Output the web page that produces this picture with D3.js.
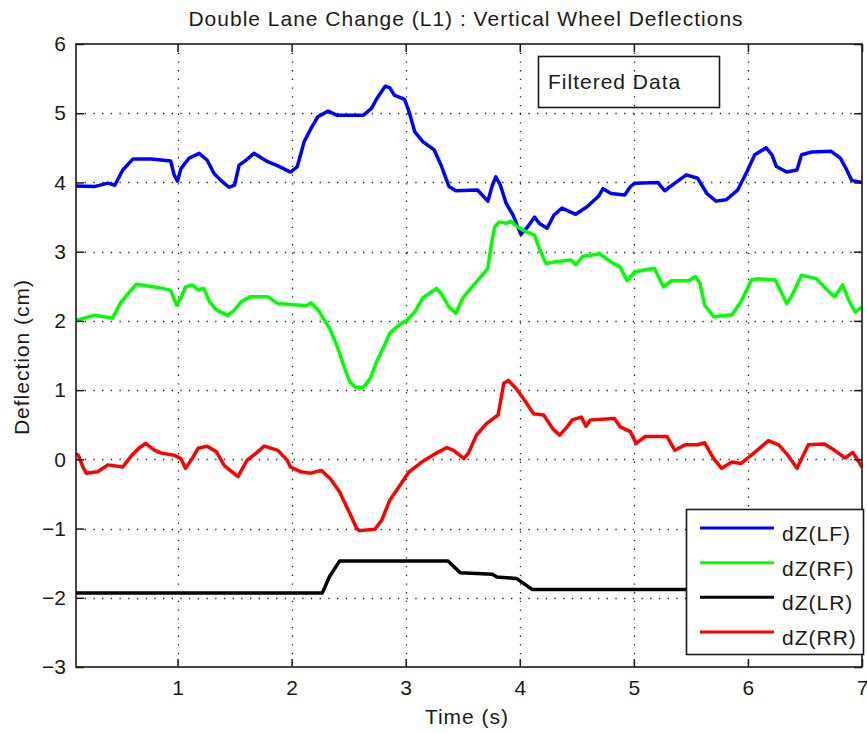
<!DOCTYPE html>
<html>
<head>
<meta charset="utf-8">
<script src="https://cdn.jsdelivr.net/npm/d3@7"></script>
<style>
  html, body { margin: 0; padding: 0; background: #fff; }
  svg { display: block; font-family: "Liberation Sans", Arial, sans-serif; }
</style>
</head>
<body>
<svg id="chart" width="867" height="733"></svg>
<script>
// Wheel deflection traces, [time (s), deflection (cm)]
const lfData = [[0.11,3.95],[0.27,3.94],[0.39,3.99],[0.45,3.96],[0.52,4.18],[0.61,4.34],[0.77,4.34],[0.94,4.31],[0.97,4.11],[1.0,4.02],[1.03,4.20],[1.10,4.35],[1.19,4.42],[1.26,4.32],[1.32,4.13],[1.38,4.03],[1.45,3.93],[1.50,3.96],[1.54,4.25],[1.60,4.32],[1.67,4.42],[1.79,4.30],[1.88,4.24],[1.99,4.15],[2.05,4.23],[2.11,4.59],[2.17,4.78],[2.23,4.95],[2.32,5.03],[2.40,4.97],[2.63,4.97],[2.70,5.07],[2.75,5.22],[2.82,5.39],[2.86,5.37],[2.90,5.26],[2.99,5.20],[3.03,5.02],[3.08,4.73],[3.15,4.59],[3.25,4.47],[3.31,4.25],[3.38,3.94],[3.44,3.88],[3.63,3.89],[3.72,3.73],[3.76,3.96],[3.79,4.08],[3.83,3.96],[3.88,3.70],[3.94,3.53],[4.01,3.25],[4.07,3.36],[4.13,3.50],[4.17,3.41],[4.24,3.34],[4.30,3.53],[4.37,3.63],[4.49,3.54],[4.59,3.65],[4.69,3.80],[4.73,3.91],[4.80,3.84],[4.92,3.82],[4.97,3.94],[5.01,3.99],[5.21,4.00],[5.27,3.88],[5.36,3.99],[5.46,4.11],[5.56,4.06],[5.64,3.84],[5.72,3.73],[5.81,3.75],[5.91,3.89],[5.99,4.15],[6.06,4.40],[6.16,4.50],[6.21,4.40],[6.25,4.23],[6.34,4.15],[6.43,4.18],[6.47,4.40],[6.56,4.44],[6.73,4.45],[6.81,4.35],[6.86,4.20],[6.91,4.03],[7.0,4.00]];

const rfData = [[0.11,2.01],[0.27,2.08],[0.43,2.04],[0.50,2.26],[0.58,2.42],[0.64,2.53],[0.80,2.49],[0.87,2.47],[0.94,2.44],[0.99,2.23],[1.03,2.33],[1.07,2.49],[1.13,2.52],[1.18,2.45],[1.23,2.47],[1.28,2.28],[1.34,2.16],[1.44,2.08],[1.50,2.16],[1.56,2.28],[1.64,2.35],[1.79,2.35],[1.88,2.25],[2.05,2.23],[2.13,2.22],[2.17,2.26],[2.23,2.16],[2.25,2.11],[2.34,1.87],[2.40,1.63],[2.46,1.34],[2.51,1.12],[2.56,1.04],[2.63,1.04],[2.69,1.17],[2.75,1.43],[2.81,1.63],[2.86,1.82],[2.92,1.91],[2.96,1.96],[3.01,2.01],[3.08,2.13],[3.15,2.33],[3.27,2.47],[3.31,2.40],[3.38,2.20],[3.44,2.11],[3.50,2.33],[3.57,2.47],[3.66,2.64],[3.72,2.76],[3.75,3.10],[3.78,3.36],[3.82,3.43],[3.88,3.41],[3.92,3.44],[3.98,3.36],[4.04,3.30],[4.13,3.24],[4.17,3.05],[4.23,2.83],[4.30,2.85],[4.45,2.88],[4.49,2.81],[4.55,2.93],[4.70,2.97],[4.80,2.85],[4.88,2.78],[4.94,2.58],[5.01,2.71],[5.18,2.76],[5.26,2.49],[5.33,2.58],[5.48,2.58],[5.54,2.64],[5.58,2.54],[5.62,2.23],[5.70,2.06],[5.86,2.09],[5.94,2.28],[6.03,2.59],[6.09,2.61],[6.24,2.59],[6.34,2.25],[6.38,2.35],[6.47,2.66],[6.60,2.61],[6.70,2.44],[6.76,2.35],[6.83,2.52],[6.89,2.28],[6.94,2.13],[7.0,2.20]];

const lrData = [[0.11,-1.93],[2.27,-1.93],[2.33,-1.70],[2.42,-1.47],[3.37,-1.47],[3.48,-1.64],[3.76,-1.66],[3.80,-1.70],[3.97,-1.72],[4.11,-1.88],[7.0,-1.88]];

const rrData = [[0.11,0.08],[0.13,0.06],[0.17,-0.11],[0.20,-0.20],[0.30,-0.18],[0.39,-0.08],[0.52,-0.11],[0.59,0.04],[0.66,0.16],[0.72,0.23],[0.80,0.13],[0.86,0.09],[0.97,0.06],[1.03,0.01],[1.07,-0.13],[1.12,-0.01],[1.18,0.16],[1.26,0.19],[1.34,0.11],[1.41,-0.09],[1.53,-0.25],[1.61,-0.01],[1.69,0.09],[1.76,0.19],[1.88,0.13],[1.96,-0.01],[1.99,-0.11],[2.08,-0.18],[2.17,-0.20],[2.26,-0.16],[2.34,-0.28],[2.42,-0.47],[2.51,-0.78],[2.57,-1.00],[2.60,-1.03],[2.73,-1.01],[2.79,-0.88],[2.86,-0.59],[2.94,-0.40],[3.03,-0.18],[3.14,-0.04],[3.27,0.09],[3.36,0.17],[3.42,0.13],[3.51,0.01],[3.55,0.09],[3.62,0.35],[3.71,0.52],[3.81,0.64],[3.86,1.10],[3.90,1.14],[3.97,1.02],[4.06,0.81],[4.12,0.66],[4.21,0.64],[4.29,0.44],[4.35,0.35],[4.42,0.48],[4.46,0.57],[4.54,0.61],[4.58,0.48],[4.62,0.57],[4.83,0.59],[4.88,0.47],[4.97,0.40],[5.02,0.23],[5.10,0.33],[5.29,0.33],[5.36,0.13],[5.45,0.21],[5.56,0.21],[5.62,0.24],[5.70,0.01],[5.77,-0.13],[5.86,-0.04],[5.94,-0.06],[6.03,0.06],[6.18,0.27],[6.27,0.21],[6.35,0.06],[6.43,-0.13],[6.53,0.21],[6.67,0.22],[6.76,0.13],[6.85,0.02],[6.92,0.10],[7.0,-0.11]];

const seriesNames = ["dZ(LF)", "dZ(RF)", "dZ(LR)", "dZ(RR)"];
const seriesColors = ["#0000ff", "#00ff00", "#000000", "#ff0000"];
const seriesData = [lfData, rfData, lrData, rrData];

const xTicks = [1, 2, 3, 4, 5, 6, 7];
const yTicks = [-3, -2, -1, 0, 1, 2, 3, 4, 5, 6];
const xDomain = [0.11, 7];
const yDomain = [-3, 6];

const titleText = "Double Lane Change (L1) : Vertical Wheel Deflections";
const xLabel = "Time (s)";
const yLabel = "Deflection (cm)";
const noteText = "Filtered Data";

// Layout
const W = 867, H = 733;
const plot = { left: 76, top: 44, right: 862, bottom: 667 };
const ink = "#1a1a1a";
const FONT = 21;

const svg = d3.select("#chart");

const x = d3.scaleLinear().domain(xDomain).range([plot.left, plot.right]);
const y = d3.scaleLinear().domain(yDomain).range([plot.bottom, plot.top]);

// Dotted grid
const grid = svg.append("g")
  .attr("stroke", "#222").attr("stroke-width", 1.3)
  .attr("stroke-dasharray", "1.3 7.4");
grid.selectAll("line.gx").data(xTicks.filter(t => t < xDomain[1]))
  .join("line")
  .attr("x1", d => Math.round(x(d)) + 0.5).attr("x2", d => Math.round(x(d)) + 0.5)
  .attr("y1", plot.top).attr("y2", plot.bottom);
grid.selectAll("line.gy").data(yTicks.filter(t => t > yDomain[0] && t < yDomain[1]))
  .join("line")
  .attr("y1", d => Math.round(y(d)) + 0.5).attr("y2", d => Math.round(y(d)) + 0.5)
  .attr("x1", plot.left).attr("x2", plot.right);

// Traces
svg.append("clipPath").attr("id", "plotClip")
  .append("rect")
  .attr("x", plot.left).attr("y", plot.top)
  .attr("width", plot.right - plot.left).attr("height", plot.bottom - plot.top);

const line = d3.line().x(d => x(d[0])).y(d => y(d[1]));
svg.append("g").attr("clip-path", "url(#plotClip)")
  .selectAll("path").data(seriesData).join("path")
  .attr("d", line)
  .attr("fill", "none")
  .attr("stroke", (d, i) => seriesColors[i])
  .attr("stroke-width", 3.5)
  .attr("stroke-linejoin", "round");

// Axes with inward ticks on all four sides
function styleAxis(g) {
  g.select(".domain").remove();
  g.selectAll(".tick line").attr("stroke", ink).attr("stroke-width", 1.5);
  g.selectAll(".tick text").attr("fill", ink)
    .attr("font-size", FONT).attr("font-family", "Liberation Sans, Arial, sans-serif");
}
svg.append("g").attr("transform", `translate(0,${plot.bottom})`)
  .call(d3.axisBottom(x).tickValues(xTicks).tickFormat(d3.format("d"))
    .tickSizeInner(-8).tickSizeOuter(0).tickPadding(13))
  .call(styleAxis);
svg.append("g").attr("transform", `translate(0,${plot.top})`)
  .call(d3.axisTop(x).tickValues(xTicks).tickFormat("")
    .tickSizeInner(-8).tickSizeOuter(0))
  .call(styleAxis);
svg.append("g").attr("transform", `translate(${plot.left},0)`)
  .call(d3.axisLeft(y).tickValues(yTicks).tickFormat(d3.format("d"))
    .tickSizeInner(-8).tickSizeOuter(0).tickPadding(10))
  .call(styleAxis);
svg.append("g").attr("transform", `translate(${plot.right},0)`)
  .call(d3.axisRight(y).tickValues(yTicks).tickFormat("")
    .tickSizeInner(-8).tickSizeOuter(0))
  .call(styleAxis);

// Frame
svg.append("rect")
  .attr("x", plot.left).attr("y", plot.top)
  .attr("width", plot.right - plot.left).attr("height", plot.bottom - plot.top)
  .attr("fill", "none").attr("stroke", ink).attr("stroke-width", 1.6);

// Title and axis labels
svg.append("text")
  .attr("x", 466).attr("y", 26).attr("text-anchor", "middle")
  .attr("font-size", FONT).attr("letter-spacing", 1).attr("fill", ink)
  .text(titleText);
svg.append("text")
  .attr("x", 467).attr("y", 724).attr("text-anchor", "middle")
  .attr("font-size", FONT).attr("letter-spacing", 1).attr("fill", ink)
  .text(xLabel);
svg.append("text")
  .attr("transform", "translate(29,357) rotate(-90)")
  .attr("text-anchor", "middle")
  .attr("font-size", FONT).attr("letter-spacing", 1).attr("fill", ink)
  .text(yLabel);

// Annotation box
svg.append("rect")
  .attr("x", 538.5).attr("y", 56.5).attr("width", 181).attr("height", 51)
  .attr("fill", "none").attr("stroke", ink).attr("stroke-width", 1.6);
svg.append("text")
  .attr("x", 548).attr("y", 89)
  .attr("font-size", FONT).attr("letter-spacing", 1).attr("fill", ink)
  .text(noteText);

// Legend
const legend = svg.append("g");
legend.append("rect")
  .attr("x", 686.5).attr("y", 509.5).attr("width", 177).attr("height", 145)
  .attr("fill", "#fff").attr("stroke", ink).attr("stroke-width", 1.6);
const rowY = d3.scalePoint().domain(seriesNames).range([528, 632]);
const rows = legend.selectAll("g.row").data(seriesNames).join("g");
rows.append("line")
  .attr("x1", 700).attr("x2", 774)
  .attr("y1", d => rowY(d)).attr("y2", d => rowY(d))
  .attr("stroke", (d, i) => seriesColors[i]).attr("stroke-width", 3);
rows.append("text")
  .attr("x", 782).attr("y", d => rowY(d) + 13)
  .attr("font-size", FONT).attr("letter-spacing", 1).attr("fill", ink)
  .text(d => d);
</script>
</body>
</html>
